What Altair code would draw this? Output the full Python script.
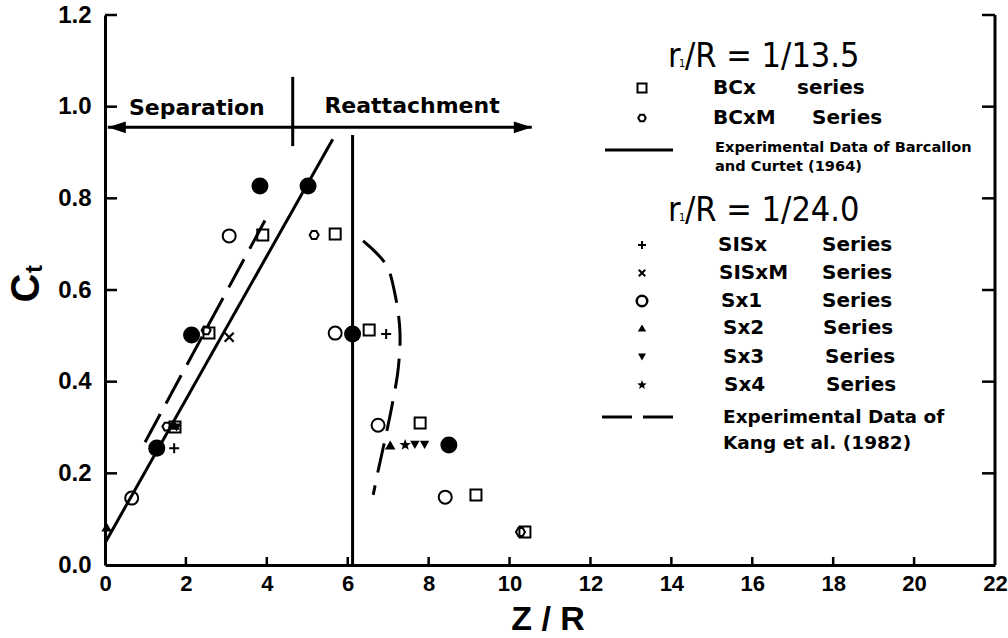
import math
import altair as alt
import pandas as pd

# ---------------- frame ----------------
W, H = 890, 550
Z_MAX, C_MAX = 22, 1.2
z_ticks = list(range(0, 23, 2))
c_ticks = [0.0, 0.2, 0.4, 0.6, 0.8, 1.0, 1.2]

AXIS_FONT = "Liberation Sans"
LABEL_FONT = "DejaVu Sans"
NARROW_FONT = "Liberation Sans Narrow, Arial Narrow, DejaVu Sans Condensed, Roboto Condensed, Roboto, Liberation Sans"

# ---------------- data ----------------
# filled circles
dot_z = [1.28, 2.14, 3.83, 5.02, 6.12, 8.50]
dot_c = [0.255, 0.502, 0.827, 0.827, 0.504, 0.262]
# r1/R = 1/13.5
bcx_z = [1.73, 2.57, 3.90, 5.69, 6.53, 7.79, 9.17, 10.38]
bcx_c = [0.301, 0.506, 0.720, 0.722, 0.513, 0.310, 0.153, 0.072]
bcxm_z = [1.53, 2.50, 5.17, 10.27]
bcxm_c = [0.302, 0.512, 0.720, 0.072]
# r1/R = 1/24.0
sisx_z = [1.71, 6.95]
sisx_c = [0.255, 0.504]
sisxm_z = [3.07]
sisxm_c = [0.497]
sx1_z = [0.66, 3.07, 5.69, 6.75, 8.41]
sx1_c = [0.146, 0.718, 0.506, 0.305, 0.148]
sx2_z = [0.04, 1.72, 7.05]
sx2_c = [0.083, 0.305, 0.262]
sx3_z = [1.77, 7.66, 7.90]
sx3_c = [0.300, 0.262, 0.262]
sx4_z = [7.42]
sx4_c = [0.262]

# Barcallon and Curtet (1964)
barc_z = [0.0, 5.63]
barc_c = [0.048, 0.929]
# reattachment position
reatt_z = [6.12, 6.12]
reatt_c = [0.0, 0.938]
# Kang et al. (1982)
kang_a_z = [0.99, 4.03]
kang_a_c = [0.268, 0.764]
kang_b_z = [6.38, 6.95, 7.17, 7.29, 7.25, 7.10, 6.90, 6.75, 6.63]
kang_b_c = [0.707, 0.655, 0.590, 0.510, 0.430, 0.350, 0.265, 0.205, 0.153]

# separation / reattachment arrow
arrow_z = [0.07, 10.55]
arrow_c = 0.955
divider_z = 4.64
divider_c = [0.914, 1.065]

# ---------------- symbols ----------------
PLUS = "M-1,0L1,0M0,-1L0,1"
CROSS = "M-1,-1L1,1M-1,1L1,-1"
HEX = "M-1,0L-0.5,-0.866L0.5,-0.866L1,0L0.5,0.866L-0.5,0.866Z"
_star = []
for k in range(10):
    r = 1.0 if k % 2 == 0 else 0.42
    a = -math.pi / 2 + k * math.pi / 5
    _star.append(f"{r * math.cos(a):.3f},{r * math.sin(a):.3f}")
STAR = "M" + "L".join(_star) + "Z"
HEAD_R = "M0,0L-2,-0.65L-2,0.65Z"
HEAD_L = "M0,0L2,-0.65L2,0.65Z"

xs = alt.Scale(domain=[0, Z_MAX], nice=False, zero=False)
ys = alt.Scale(domain=[0, C_MAX], nice=False, zero=False)
ONE = pd.DataFrame({"k": [0]})

AX_X = alt.Axis(
    values=z_ticks, title=None, grid=False, ticks=False,
    domainColor="black", domainWidth=3, labelFont=AXIS_FONT,
    labelFontSize=22, labelFontWeight="bold", labelColor="black",
    labelPadding=8, labelFlush=False)
AX_Y = alt.Axis(
    values=c_ticks, format=".1f", title=None, grid=False, ticks=False,
    domainColor="black", domainWidth=3, labelFont=AXIS_FONT,
    labelFontSize=24, labelFontWeight="bold", labelColor="black",
    labelPadding=14, labelFlush=False)


def X(field="z"):
    return alt.X(f"{field}:Q", scale=xs, axis=AX_X)


def Y(field="c"):
    return alt.Y(f"{field}:Q", scale=ys, axis=AX_Y)


def pts(z, c, shape, size, filled, sw=2.0):
    return alt.Chart(pd.DataFrame({"z": z, "c": c})).mark_point(
        shape=shape, size=size, filled=filled, color="black",
        strokeWidth=sw, opacity=1
    ).encode(x=X(), y=Y())


def curve(z, c, dash=None, interp="linear"):
    df = pd.DataFrame({"z": z, "c": c, "i": list(range(len(z)))})
    kw = dict(color="black", strokeWidth=3, interpolate=interp, strokeCap="butt")
    if dash:
        kw["strokeDash"] = dash
    return alt.Chart(df).mark_line(**kw).encode(x=X(), y=Y(), order="i:Q")


def label(text, px, py, size, font=LABEL_FONT, weight="bold", align="left",
          baseline="middle", angle=0):
    return alt.Chart(ONE).mark_text(
        text=text, align=align, baseline=baseline, font=font, fontSize=size,
        fontWeight=weight, color="black", angle=angle
    ).encode(x=alt.value(px), y=alt.value(py))


def glyph(shape, px, py, size, filled, sw=2.0):
    return alt.Chart(ONE).mark_point(
        shape=shape, size=size, filled=filled, color="black",
        strokeWidth=sw, opacity=1
    ).encode(x=alt.value(px), y=alt.value(py))


def seg(x1, x2, py, dash=None):
    kw = dict(color="black", strokeWidth=3, strokeCap="butt")
    if dash:
        kw["strokeDash"] = dash
    return alt.Chart(ONE).mark_rule(**kw).encode(
        x=alt.value(x1), x2=alt.value(x2), y=alt.value(py))


layers = []

# inward ticks and right-hand axis
layers.append(alt.Chart(pd.DataFrame({"z": z_ticks[1:-1]})).mark_rule(
    color="black", strokeWidth=2.5).encode(x=X(), y=alt.value(H), y2=alt.value(H - 8)))
layers.append(alt.Chart(pd.DataFrame({"c": c_ticks[1:]})).mark_rule(
    color="black", strokeWidth=2.5).encode(y=Y(), x=alt.value(0), x2=alt.value(12)))
layers.append(alt.Chart(pd.DataFrame({"c": c_ticks[1:]})).mark_rule(
    color="black", strokeWidth=2.5).encode(y=Y(), x=alt.value(W - 13), x2=alt.value(W)))
layers.append(alt.Chart(ONE).mark_rule(color="black", strokeWidth=3).encode(
    x=alt.value(W), y=alt.value(0), y2=alt.value(H)))

# separation / reattachment arrow
arrow_df = pd.DataFrame({"z": [arrow_z[0]], "z2": [arrow_z[1]], "c": [arrow_c]})
layers.append(alt.Chart(arrow_df).mark_rule(color="black", strokeWidth=3).encode(
    x=X(), x2="z2:Q", y=Y()))
layers.append(pts([arrow_z[1]], [arrow_c], HEAD_R, 324, True, 0))
layers.append(pts([arrow_z[0]], [arrow_c], HEAD_L, 324, True, 0))
div_df = pd.DataFrame({"z": [divider_z], "c": [divider_c[0]], "c2": [divider_c[1]]})
layers.append(alt.Chart(div_df).mark_rule(color="black", strokeWidth=3).encode(
    x=X(), y=Y(), y2="c2:Q"))
sep_df = pd.DataFrame({"z": [2.27, 7.59], "c": [0.997, 1.002],
                       "t": ["Separation", "Reattachment"]})
layers.append(alt.Chart(sep_df).mark_text(
    font=LABEL_FONT, fontSize=22, fontWeight="bold", color="black",
    baseline="middle", align="center").encode(x=X(), y=Y(), text="t:N"))

# reference curves
layers.append(curve(barc_z, barc_c))
layers.append(curve(reatt_z, reatt_c))
layers.append(curve(kang_a_z, kang_a_c, dash=[32, 12]))
layers.append(curve(kang_b_z, kang_b_c, dash=[30, 13], interp="catmull-rom"))

# data series
layers.append(pts(bcx_z, bcx_c, "square", 121, False, 2))
layers.append(pts(bcxm_z, bcxm_c, HEX, 81, False, 2))
layers.append(pts(sx1_z, sx1_c, "circle", 169, False, 2))
layers.append(pts(sisx_z, sisx_c, PLUS, 100, False, 2))
layers.append(pts(sisxm_z, sisxm_c, CROSS, 81, False, 2.2))
layers.append(pts(sx2_z, sx2_c, "triangle-up", 110, True, 0))
layers.append(pts(sx3_z, sx3_c, "triangle-down", 90, True, 0))
layers.append(pts(sx4_z, sx4_c, STAR, 144, True, 0))
layers.append(pts(dot_z, dot_c, "circle", 290, True, 0))

# axis titles
layers.append(label("Z / R", 443, 605, 34, font=AXIS_FONT, align="center"))
layers.append(label("C", -78, 273, 40, font=AXIS_FONT, align="center", angle=270))
layers.append(label("t", -70, 254, 24, font=AXIS_FONT, align="center", angle=270))

# key: r1/R = 1/13.5
layers.append(label("r", 563, 52, 34, font=NARROW_FONT, weight="normal", baseline="alphabetic"))
layers.append(label("1", 574, 52, 11, font=NARROW_FONT, weight="normal", baseline="alphabetic"))
layers.append(label("/R = 1/13.5", 580, 52, 34, font=NARROW_FONT, weight="normal", baseline="alphabetic"))
layers.append(glyph("square", 537, 73, 81, False, 2))
layers.append(label("BCx", 608, 73, 20))
layers.append(label("series", 692, 73, 20))
layers.append(glyph(HEX, 537, 103, 56, False, 2))
layers.append(label("BCxM", 608, 103, 20))
layers.append(label("Series", 707, 103, 20))
layers.append(seg(500, 568, 135))
layers.append(label("Experimental Data of Barcallon", 610, 133, 14.6))
layers.append(label("and Curtet (1964)", 610, 152, 14.6))

# key: r1/R = 1/24.0
layers.append(label("r", 563, 206, 34, font=NARROW_FONT, weight="normal", baseline="alphabetic"))
layers.append(label("1", 574, 206, 11, font=NARROW_FONT, weight="normal", baseline="alphabetic"))
layers.append(label("/R = 1/24.0", 580, 206, 34, font=NARROW_FONT, weight="normal", baseline="alphabetic"))
key_rows = [
    (PLUS, 64, False, 2, "SISx", 613, 717, 230),
    (CROSS, 42, False, 2, "SISxM", 614, 717, 258),
    ("circle", 110, False, 2.5, "Sx1", 616, 717, 286),
    ("triangle-up", 70, True, 0, "Sx2", 618, 718, 313),
    ("triangle-down", 64, True, 0, "Sx3", 618, 720, 342),
    (STAR, 100, True, 0, "Sx4", 619, 721, 370),
]
for shape, size, filled, sw, name, nx, tx, ry in key_rows:
    layers.append(glyph(shape, 537, ry, size, filled, sw))
    layers.append(label(name, nx, ry, 20))
    layers.append(label("Series", tx, ry, 20))
layers.append(seg(497, 527, 402))
layers.append(seg(538, 568, 402))
layers.append(label("Experimental Data of", 618, 402, 18.5))
layers.append(label("Kang et al. (1982)", 618, 428, 18.5))

chart = alt.layer(*layers).properties(
    width=W, height=H,
    autosize=alt.AutoSizeParams(type="none"),
    padding={"left": 105, "top": 15, "right": 13, "bottom": 73},
    background="white",
).configure_view(stroke=None)

chart.save("out.html", embed_options={"renderer": "svg", "actions": False})
